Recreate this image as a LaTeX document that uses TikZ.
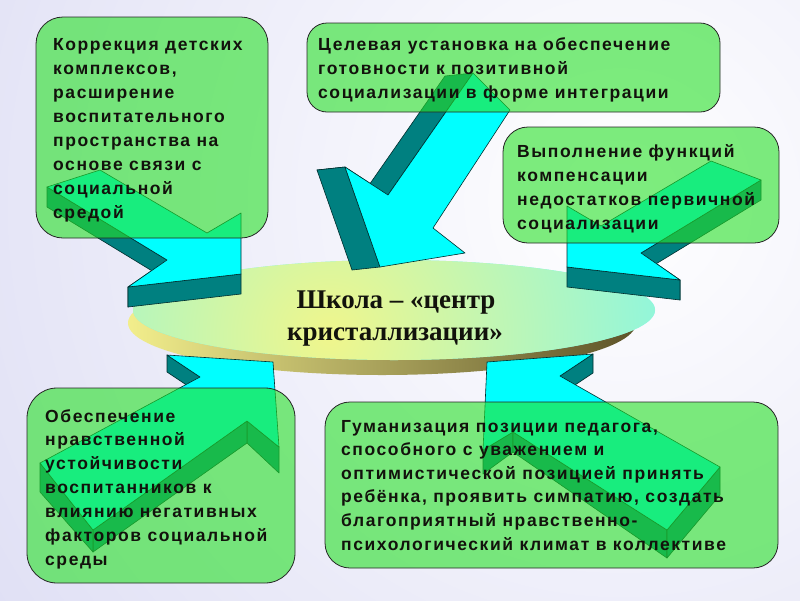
\documentclass[tikz,border=0pt]{standalone}
\usepackage{fontspec}
\setmainfont{Liberation Serif}
\newfontfamily\boxfont[LetterSpace=9]{Liberation Sans}
\definecolor{arrcyan}{RGB}{0,255,255}
\definecolor{arrteal}{RGB}{0,128,128}
\definecolor{arredge}{RGB}{0,45,45}
\definecolor{boxgreen}{RGB}{40,225,40}
\definecolor{bglav}{RGB}{203,203,238}
\definecolor{rimyellow}{RGB}{242,238,140}
\definecolor{rimolive}{RGB}{110,98,48}
\definecolor{topyellow}{RGB}{240,246,140}
\definecolor{topcyan}{RGB}{120,246,240}
\definecolor{txtdark}{RGB}{18,18,12}
\begin{document}
\begin{tikzpicture}[x=1pt,y=-1pt,
  arrtop/.style={fill=arrcyan, draw=arredge, line width=0.6pt, line join=round},
  arrside/.style={fill=arrteal, draw=arredge, line width=0.6pt, line join=round},
  greenbox/.style={fill=boxgreen, fill opacity=0.6, draw=black!85, line width=0.8pt},
  boxtext/.style={anchor=base west, inner sep=0pt, text=txtdark,
    font=\boxfont\bfseries\fontsize{17.5}{20}\selectfont},
  schooltext/.style={anchor=base, inner sep=0pt, text=txtdark,
    font=\bfseries\fontsize{27}{32}\selectfont}]
\useasboundingbox (0,0) rectangle (800,600);
% background
\begin{scope}
  \clip (0,0) rectangle (800,600);
  \shade[inner color=white, outer color=bglav] (620,200) circle [radius=1250pt];
\end{scope}
% disc: rim and top surface
\shade[left color=rimyellow, middle color=rimolive, right color=rimolive!85!black]
  (382,323) ellipse [x radius=254pt, y radius=52pt];
\begin{scope}
  \clip (394,310) ellipse [x radius=261pt, y radius=50pt];
  \fill[topcyan] (120,250) rectangle (670,370);
  \shade[inner color=topyellow, outer color=topcyan] (330,335) circle [radius=420pt];
\end{scope}
% arrow A (upper left)
\filldraw[arrside] (128,287) -- (167,260) -- (167,280) -- (128,307) -- cycle;
\filldraw[arrside] (167,260) -- (47,187) -- (47,207) -- (167,280) -- cycle;
\filldraw[arrside] (128,287) -- (241,274) -- (241,294) -- (128,307) -- cycle;
\filldraw[arrtop] (47,187) -- (100,170) -- (207,233) -- (241,213) -- (241,274) -- (128,287) -- (167,260) -- cycle;
% arrow C (right)
\filldraw[arrside] (680,280) -- (641,253) -- (641,273) -- (680,300) -- cycle;
\filldraw[arrside] (641,253) -- (761,180) -- (761,200) -- (641,273) -- cycle;
\filldraw[arrside] (680,280) -- (567,267) -- (567,287) -- (680,300) -- cycle;
\filldraw[arrtop] (761,180) -- (711,161) -- (601,226) -- (567,206) -- (567,267) -- (680,280) -- (641,253) -- cycle;
% arrow B (top middle)
\filldraw[arrside] (345,167) -- (388,195) -- (360,198) -- (317,170) -- cycle;
\filldraw[arrside] (388,195) -- (473,73) -- (445,76) -- (360,198) -- cycle;
\filldraw[arrside] (345,167) -- (380,267) -- (352,270) -- (317,170) -- cycle;
\filldraw[arrtop] (473,73) -- (510,110) -- (433,228) -- (465,253) -- (380,267) -- (345,167) -- (388,195) -- cycle;
% arrow D (lower left)
\filldraw[arrside] (167,355) -- (200,377) -- (200,394) -- (167,372) -- cycle;
\filldraw[arrside] (247,421) -- (279,447) -- (279,473) -- (247,443) -- cycle;
\filldraw[arrside] (247,421) -- (93,530) -- (93,552) -- (247,443) -- cycle;
\filldraw[arrside] (40,463) -- (93,530) -- (93,552) -- (40,492) -- cycle;
\filldraw[arrtop] (273,362) -- (167,355) -- (200,377) -- (40,463) -- (93,530) -- (247,421) -- (279,447) -- cycle;
% arrow E (lower right)
\filldraw[arrside] (593,354) -- (560,376) -- (560,395) -- (593,373) -- cycle;
\filldraw[arrside] (513,432) -- (483,450) -- (483,474) -- (513,452) -- cycle;
\filldraw[arrside] (513,432) -- (667,530) -- (667,558) -- (513,452) -- cycle;
\filldraw[arrside] (720,467) -- (667,530) -- (667,558) -- (720,495) -- cycle;
\filldraw[arrtop] (487,362) -- (593,354) -- (560,376) -- (720,467) -- (667,530) -- (513,432) -- (483,450) -- cycle;
% centre text
\node[schooltext] (school1) at (396,308) {Школа – «центр};
\node[schooltext] (school2) at (395,340) {кристаллизации»};
% boxes
\draw[greenbox, rounded corners=27pt] (36,17) rectangle (268,238);
\draw[greenbox, rounded corners=20pt] (307,23) rectangle (720,112);
\draw[greenbox, rounded corners=25pt] (503,127) rectangle (779,243);
\draw[greenbox, rounded corners=30pt] (27,388) rectangle (295,583);
\draw[greenbox, rounded corners=25pt] (325,402) rectangle (778,568);
% box texts
\foreach \txt [count=\i] in {{Коррекция детских},{комплексов,},{расширение},{воспитательного},{пространства на},{основе связи с},{социальной},{средой}}
  \node[boxtext] (ta\i) at (53,{50+24*(\i-1)}) {\txt};
\foreach \txt [count=\i] in {{Целевая установка на обеспечение},{готовности к позитивной},{социализации в форме интеграции}}
  \node[boxtext] (tb\i) at (318,{50+24*(\i-1)}) {\txt};
\foreach \txt [count=\i] in {{Выполнение функций},{компенсации},{недостатков первичной},{социализации}}
  \node[boxtext] (tc\i) at (517,{157+24.2*(\i-1)}) {\txt};
\foreach \txt [count=\i] in {{Обеспечение},{нравственной},{устойчивости},{воспитанников к},{влиянию негативных},{факторов социальной},{среды}}
  \node[boxtext] (td\i) at (45,{422+23.9*(\i-1)}) {\txt};
\foreach \txt [count=\i] in {{Гуманизация позиции педагога,},{способного с уважением и},{оптимистической позицией принять},{ребёнка, проявить симпатию, создать},{благоприятный нравственно-},{психологический климат в коллективе}}
  \node[boxtext] (te\i) at (341,{432+23.6*(\i-1)}) {\txt};
\end{tikzpicture}
\end{document}
